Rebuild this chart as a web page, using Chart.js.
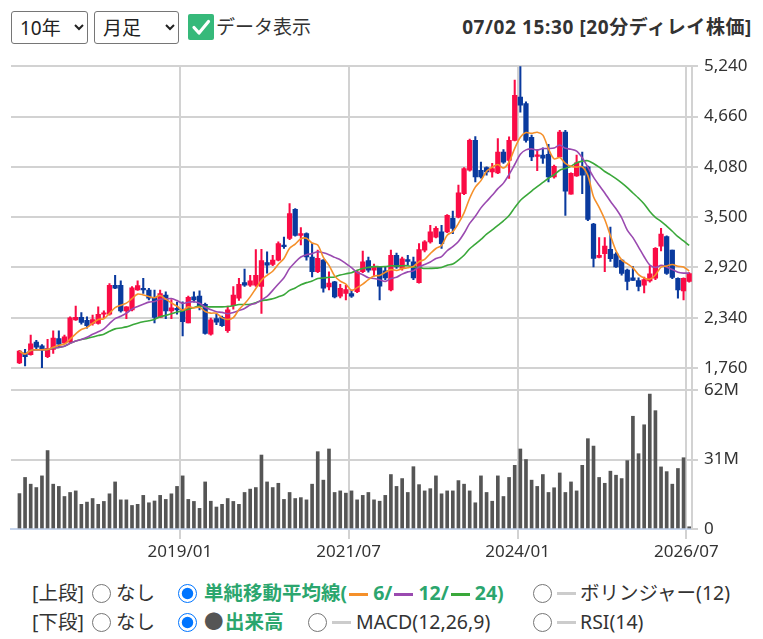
<!DOCTYPE html>
<html lang="ja">
<head>
<meta charset="utf-8">
<script src="https://cdn.jsdelivr.net/npm/chart.js@4/dist/chart.umd.min.js"></script>
<style>
  body { margin:0; width:763px; height:639px; position:relative; background:#fff; overflow:hidden;
         font-family:"Noto Sans","Noto Sans CJK JP",sans-serif; color:#333; }
  .abs { position:absolute; white-space:nowrap; line-height:26px; font-size:19.5px; }
  select { position:absolute; top:11px; height:33px; font-size:19px; font-family:inherit; color:#222;
           border:1px solid #767676; border-radius:3px; background:#fff; padding:0 0 0 4px; }
  #chk { position:absolute; left:188px; top:14px; width:26px; height:26px; border-radius:2px; background:#36b97a; }
  input[type=radio] { position:absolute; width:19px; height:19px; margin:0; }
  .grn { color:#2ba66e; font-weight:bold; }
  .dash { display:inline-block; width:19px; height:3px; vertical-align:middle; margin:0 5px 0 2px; }
  #box { position:absolute; left:0; top:50px; width:763px; height:515px; }
</style>
</head>
<body>
<select style="left:11px;width:77px"><option>10年</option></select>
<select style="left:94px;width:85px"><option>月足</option></select>
<div id="chk"><svg width="26" height="26" viewBox="0 0 26 26"><path d="M6 13.5 L11 19 L20.5 7.5" fill="none" stroke="#fff" stroke-width="3.2" stroke-linecap="round" stroke-linejoin="round"/></svg></div>
<div class="abs" style="left:216px;top:14px;font-size:19px">データ表示</div>
<div class="abs" style="right:11px;top:14px;font-size:19px;font-weight:bold;letter-spacing:0.6px">07/02 15:30 [20分ディレイ株価]</div>

<div id="box"><canvas id="c"></canvas></div>

<!-- 上段 -->
<div class="abs" style="left:32px;top:580px">[上段]</div>
<input type="radio" name="up" style="left:92px;top:584px">
<div class="abs" style="left:116px;top:580px">なし</div>
<input type="radio" name="up" style="left:178px;top:584px" checked>
<div class="abs grn" style="left:204px;top:580px">単純移動平均線(<span class="dash" style="background:#f5902a"></span>6/<span class="dash" style="background:#9a4ab0"></span>12/<span class="dash" style="background:#3aa83a"></span>24)</div>
<input type="radio" name="up" style="left:533px;top:584px">
<span class="abs dash" style="left:557px;top:592px;background:#ccc;margin:0"></span>
<div class="abs" style="left:580px;top:580px">ボリンジャー(12)</div>

<!-- 下段 -->
<div class="abs" style="left:32px;top:609px">[下段]</div>
<input type="radio" name="dn" style="left:92px;top:613px">
<div class="abs" style="left:116px;top:609px">なし</div>
<input type="radio" name="dn" style="left:178px;top:613px" checked>
<div class="abs" style="left:204px;top:609px;color:#555">●</div>
<div class="abs grn" style="left:225px;top:609px">出来高</div>
<input type="radio" name="dn" style="left:308px;top:613px">
<span class="abs dash" style="left:332px;top:621px;background:#ccc;margin:0"></span>
<div class="abs" style="left:356px;top:609px">MACD(12,26,9)</div>
<input type="radio" name="dn" style="left:533px;top:613px">
<span class="abs dash" style="left:557px;top:621px;background:#ccc;margin:0"></span>
<div class="abs" style="left:580px;top:609px">RSI(14)</div>

<script>
// 月足 2016/08 - 2026/07
const months = [];
for (let y = 2016, m = 8; months.length < 120; m++) {
    if (m > 12) { m = 1; y++; }
    months.push(y + '/' + String(m).padStart(2, '0'));
}

const opens = [
    1820,1925,1915,2060,2015,1890,1975,2100,2050,2060,2315,2345,2310,2275,2275,
    2380,2380,2715,2715,2420,2430,2660,2680,2660,2575,2345,2600,2420,2450,
    2420,2280,2580,2590,2495,2150,2330,2345,2190,2480,2565,2745,2715,2715,2700,
    2975,2955,3005,3175,3255,3590,3290,3310,3040,2870,3005,2695,2755,2590,2620,
    2620,2640,2870,3000,2890,2920,2880,2660,3060,2910,3010,2985,2745,3120,3215,
    3270,3330,3330,3485,3500,3770,4040,4385,4040,4070,4020,4010,4250,4155,4385,
    4885,4810,4420,4200,4215,4225,3965,4195,4480,3765,3975,4080,4080,3420,3035,
    3080,3130,3075,3005,2890,2800,2770,2715,2765,2795,3165,3275,3120,2795,2650,
    2760
];
const highs = [
    1965,1975,2140,2080,2030,2090,2190,2190,2140,2350,2475,2400,2350,2370,2465,
    2420,2735,2830,2765,2470,2700,2765,2795,2680,2660,2660,2640,2550,2520,
    2525,2590,2640,2650,2510,2335,2380,2360,2475,2700,2795,2900,2830,3125,3130,
    3100,3060,3215,3270,3655,3600,3380,3320,3195,3120,3010,2870,2760,2725,2715,
    2660,2890,3110,3040,2960,2930,2930,3120,3085,3040,3060,3040,3195,3230,3405,
    3390,3405,3530,3570,3870,4070,4400,4430,4135,4080,4120,4405,4280,4425,5080,
    5240,4830,4445,4280,4300,4340,4100,4500,4500,4010,4215,4250,4090,3430,3265,
    3265,3385,3090,3010,2900,2930,2800,2810,2940,3150,3370,3285,3120,2800,2800,
    2860
];
const lows = [
    1810,1785,1910,1985,1765,1880,1930,2000,2045,2055,2310,2265,2220,2255,2265,
    2340,2370,2675,2405,2330,2420,2655,2620,2545,2280,2340,2330,2330,2380,
    2130,2280,2520,2430,2150,2140,2260,2240,2170,2440,2540,2700,2700,2700,2390,
    2855,2940,2995,3140,3240,3280,3180,3005,2810,2860,2635,2660,2570,2570,2545,
    2575,2630,2860,2865,2820,2545,2780,2650,2910,2890,2950,2780,2740,3100,3200,
    3260,3140,3320,3310,3490,3760,4030,3905,3950,3985,3960,4000,4120,3945,4380,
    4710,4365,4150,4035,4120,3905,3950,4195,3520,3765,3970,3770,3460,2925,3030,
    2870,2990,2920,2830,2660,2770,2650,2625,2750,2780,3110,2840,2790,2565,2545,
    2750
];
const closes = [
    1955,1890,2040,2000,1975,1985,2105,2035,2120,2340,2345,2285,2250,2320,2380,
    2395,2715,2680,2420,2465,2685,2710,2660,2565,2345,2620,2420,2455,2430,
    2295,2575,2545,2470,2160,2315,2290,2250,2430,2600,2725,2715,2765,2830,3000,
    2945,3005,3195,3160,3540,3290,3310,3040,2870,3025,2680,2740,2580,2680,2665,
    2590,2870,2985,2890,2930,2705,2800,3060,2925,3020,2990,2800,3125,3215,3330,
    3370,3195,3520,3370,3780,4060,4385,3965,3965,4020,4060,4250,4135,4385,4905,
    4790,4385,4195,4215,4180,3965,4085,4480,3800,4005,4125,3985,3475,3025,3060,
    3165,3020,2925,2850,2760,2770,2700,2780,2845,3140,3305,2850,2805,2660,2795,
    2850
];
// 出来高 (百万株)
const volumes = [
    15.8,23,20,18.5,23.7,35,20,19,14.5,16.3,17,11,12,13.6,11,
    12.3,15.7,21,13,13,10.5,11,15,11.7,12.5,15,13.2,15.7,19,
    23.7,13.2,12.3,9.2,21,12.4,9.8,11,13.6,12.3,11,16.3,17.8,18.5,33,
    21,18.5,20.4,13.2,16.3,13.6,14,13,20,34.5,21.8,35.7,16.3,17,16,
    17,13,15,16.3,13,12.4,15,24.3,19,22.5,16.3,27.8,19.8,17,18,
    23.7,15.7,17,17,21.6,20,17,11.7,23.7,16.3,12.4,23.7,14.5,23,28.4,
    35.7,31,21.8,19,24.3,16.3,18.4,25,16.3,21,17,28.4,40.3,37,23,
    20.4,25.8,24,22.5,30.5,50.3,33.6,46.5,60.2,52.8,27.7,25.6,20,27,31.8,
    1
];

const priceTicks = [1760, 2340, 2920, 3500, 4080, 4660, 5240];
const volumeTicks = [0, 31, 62];
const dateTicks = ['2019/01', '2021/07', '2024/01', '2026/07'];

const RED = '#fa0b45';
const BLUE = '#0a3a9e';
const FONT = { family: '"Noto Sans","Noto Sans CJK JP",sans-serif', size: 17 };

function sma(arr, n) {
    return arr.map((_, i) => {
        const part = arr.slice(Math.max(0, i - n + 1), i + 1);
        return part.reduce((a, b) => a + b, 0) / part.length;
    });
}
const upColor = ctx => closes[ctx.dataIndex] >= opens[ctx.dataIndex] ? RED : BLUE;
const pts = arr => arr.map((v, i) => ({ x: i, y: v }));

function maLine(n, color) {
    return {
        type: 'line', data: pts(sma(closes, n)), yAxisID: 'y',
        borderColor: color, borderWidth: 1.6, pointRadius: 0, tension: 0.3, order: 0
    };
}

new Chart(document.getElementById('c'), {
    type: 'bar',
    data: {
        datasets: [
            maLine(6, '#f5902a'),
            maLine(12, '#9a4ab0'),
            maLine(24, '#3aa83a'),
            {   // ひげ
                data: lows.map((l, i) => ({ x: i, y: [l, highs[i]] })),
                yAxisID: 'y', barThickness: 1.4, grouped: false,
                backgroundColor: upColor, order: 2
            },
            {   // 実体
                data: opens.map((o, i) => ({ x: i, y: [o, closes[i]] })),
                yAxisID: 'y', barThickness: 4.6, grouped: false, minBarLength: 1.5,
                backgroundColor: upColor, order: 1
            },
            {   // 出来高
                data: pts(volumes), yAxisID: 'yv', barThickness: 3, grouped: false,
                backgroundColor: '#555', order: 3
            }
        ]
    },
    options: {
        responsive: true,
        maintainAspectRatio: false,
        animation: false,
        layout: { padding: { left: 11, top: 16, right: 0, bottom: 0 } },
        plugins: { legend: { display: false }, tooltip: { enabled: false } },
        scales: {
            x: {
                type: 'linear', min: -1.5, max: 119.5, offset: false,
                afterBuildTicks: s => { s.ticks = [28.5, 58.5, 88.5, 118.5].map(v => ({ value: v })); },
                afterFit: s => { s.height = 36; },
                ticks: {
                    autoSkip: false, maxRotation: 0, padding: 3, color: '#333', font: FONT,
                    callback: (v, i) => dateTicks[i]
                },
                grid: { offset: false, color: '#d2d2d2', lineWidth: 2, tickLength: 10 },
                border: { color: '#c5d4ec', width: 2 }
            },
            y: {
                position: 'right', stack: 'pane', stackWeight: 302,
                min: 1760, max: 5240,
                afterBuildTicks: s => { s.ticks = priceTicks.map(v => ({ value: v })); },
                afterFit: s => { s.width = 71; },
                ticks: { color: '#333', font: FONT, padding: 6, callback: v => v.toLocaleString('en-US') },
                grid: { color: '#d2d2d2', lineWidth: 2, tickLength: 6 },
                border: { color: '#d2d2d2', width: 2 }
            },
            yv: {
                position: 'right', stack: 'pane', stackWeight: 161,
                min: 0, max: 71.8,
                afterBuildTicks: s => { s.ticks = volumeTicks.map(v => ({ value: v })); },
                afterFit: s => { s.width = 71; },
                ticks: { color: '#333', font: FONT, padding: 6, callback: v => v ? v + 'M' : '0' },
                grid: { color: '#d2d2d2', lineWidth: 2, tickLength: 6 },
                border: { color: '#d2d2d2', width: 2 }
            }
        }
    }
});
</script>
</body>
</html>
